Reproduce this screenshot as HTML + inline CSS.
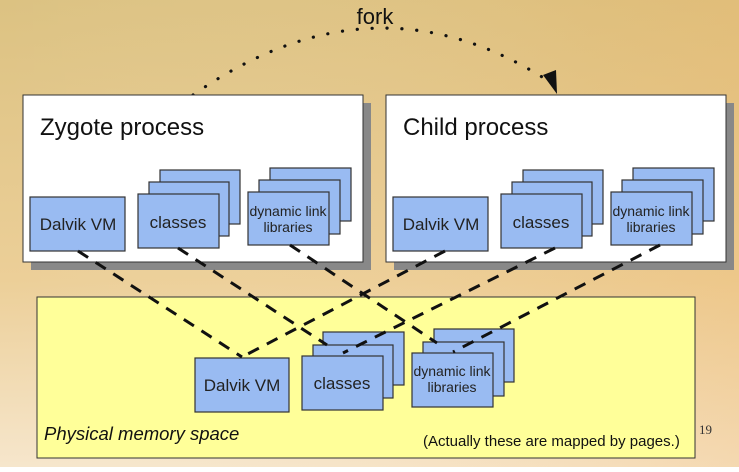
<!DOCTYPE html>
<html><head><meta charset="utf-8"><style>
body{margin:0;width:739px;height:467px;overflow:hidden;}
</style></head><body>
<svg width="739" height="467" xmlns="http://www.w3.org/2000/svg" font-family="Liberation Sans, sans-serif">
<defs>
<linearGradient id="bg" x1="0" y1="0" x2="0" y2="1">
<stop offset="0" stop-color="#dcc282"/><stop offset="0.6" stop-color="#eccf98"/><stop offset="1" stop-color="#f6e6cc"/>
</linearGradient>
<linearGradient id="bgx" x1="0" y1="0" x2="1" y2="0">
<stop offset="0" stop-color="#ffffff" stop-opacity="0"/><stop offset="0.8" stop-color="#f0b060" stop-opacity="0.15"/><stop offset="1" stop-color="#f0b060" stop-opacity="0.25"/>
</linearGradient>
</defs>
<rect width="739" height="467" fill="url(#bg)"/>
<rect width="739" height="467" fill="url(#bgx)"/>
<text x="375" y="24" font-size="22" text-anchor="middle" fill="#111">fork</text>
<path d="M193 95 Q375 -32 550 82" fill="none" stroke="#111" stroke-width="3.2" stroke-dasharray="0.1 14.8" stroke-linecap="round"/>
<polygon points="543,75 556,70 557,94" fill="#111"/>
<g stroke="#333" stroke-width="1">
<rect x="31" y="103" width="340" height="167" fill="#888" stroke="none"/>
<rect x="23" y="95" width="340" height="167" fill="#fff"/>
<rect x="394" y="103" width="340" height="167" fill="#888" stroke="none"/>
<rect x="386" y="95" width="340" height="167" fill="#fff"/>
<rect x="37" y="297" width="658" height="161" fill="#ffff99"/>
</g>
<g font-size="24" fill="#111">
<text x="40" y="135">Zygote process</text>
<text x="403" y="135">Child process</text>
</g>
<text x="44" y="440" font-size="18.5" font-style="italic" fill="#111">Physical memory space</text>
<text x="423" y="446" font-size="15" fill="#111">(Actually these are mapped by pages.)</text>
<text x="699" y="434" font-size="13" font-family="Liberation Serif, serif" fill="#333">19</text>
<g fill="#99bbf2" stroke="#333" stroke-width="1.2">
<rect x="30" y="197" width="95" height="54"/>
<rect x="160" y="170" width="80" height="54"/><rect x="149" y="182" width="80" height="54"/><rect x="138" y="194" width="81" height="54"/>
<rect x="270" y="168" width="81" height="53"/><rect x="259" y="180" width="81" height="54"/><rect x="248" y="192" width="81" height="53"/>
<rect x="393" y="197" width="95" height="54"/>
<rect x="523" y="170" width="80" height="54"/><rect x="512" y="182" width="80" height="54"/><rect x="501" y="194" width="81" height="54"/>
<rect x="633" y="168" width="81" height="53"/><rect x="622" y="180" width="81" height="54"/><rect x="611" y="192" width="81" height="53"/>
<rect x="195" y="358" width="94" height="54"/>
<rect x="323" y="332" width="81" height="53"/><rect x="313" y="345" width="80" height="53"/><rect x="302" y="356" width="81" height="54"/>
<rect x="434" y="329" width="80" height="53"/><rect x="423" y="342" width="81" height="54"/><rect x="412" y="353" width="81" height="54"/>
</g>
<g font-size="17" fill="#222" text-anchor="middle">
<text x="78" y="230">Dalvik VM</text><text x="178" y="228">classes</text>
<text x="441" y="230">Dalvik VM</text><text x="541" y="228">classes</text>
<text x="242" y="391">Dalvik VM</text><text x="342" y="389">classes</text>
</g>
<g font-size="14" fill="#222" text-anchor="middle">
<text x="288" y="216">dynamic link</text><text x="288" y="232">libraries</text>
<text x="651" y="216">dynamic link</text><text x="651" y="232">libraries</text>
<text x="452" y="376">dynamic link</text><text x="452" y="392">libraries</text>
</g>
<g stroke="#111" stroke-width="3" stroke-dasharray="12 9" fill="none">
<line x1="78" y1="251" x2="242" y2="357"/>
<line x1="445" y1="251" x2="242" y2="357"/>
<line x1="178" y1="248" x2="327" y2="345"/>
<line x1="555" y1="248" x2="343" y2="353"/>
<line x1="290" y1="245" x2="437" y2="343"/>
<line x1="660" y1="245" x2="453" y2="352"/>
</g>
</svg>
</body></html>
